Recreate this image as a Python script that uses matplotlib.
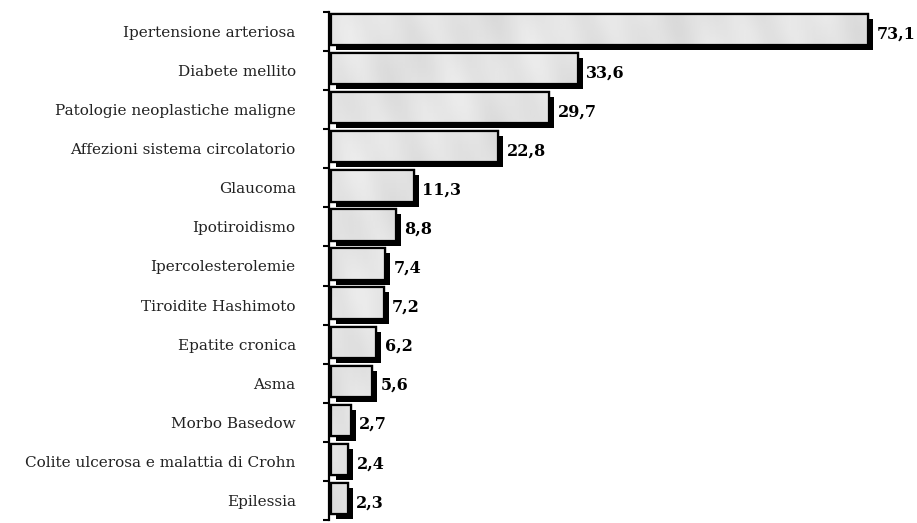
import numpy as np
import matplotlib
matplotlib.use('Agg')
import matplotlib.pyplot as plt
from matplotlib.transforms import ScaledTranslation

categories = ['Ipertensione arteriosa', 'Diabete mellito', 'Patologie neoplastiche maligne',
              'Affezioni sistema circolatorio', 'Glaucoma', 'Ipotiroidismo',
              'Ipercolesterolemie', 'Tiroidite Hashimoto', 'Epatite cronica', 'Asma',
              'Morbo Basedow', 'Colite ulcerosa e malattia di Crohn', 'Epilessia']
values = [73.1, 33.6, 29.7, 22.8, 11.3, 8.8, 7.4, 7.2, 6.2, 5.6, 2.7, 2.4, 2.3]
value_labels = ['73,1', '33,6', '29,7', '22,8', '11,3', '8,8', '7,4', '7,2', '6,2', '5,6',
                '2,7', '2,4', '2,3']

plt.rcParams['font.family'] = ['DejaVu Serif']

fig = plt.figure(figsize=(9.17, 5.23), dpi=100)
ax = fig.add_axes([329 / 917, 3 / 523, 588 / 917, 508 / 523])

n = len(categories)
pos = np.arange(n) + 0.45
h = 0.8

shadow = ax.transData + ScaledTranslation(5 / 100, -5 / 100, fig.dpi_scale_trans)
ax.barh(pos, values, height=h, left=0.25, color='black', transform=shadow, zorder=1)
bars = ax.barh(pos, values, height=h, left=0.25, color='#e4e4e4', edgecolor='black',
               linewidth=1.6, zorder=2)

# light marble-ish fill
xx = np.linspace(0, 1, 300)
yy = np.linspace(0, 1, 40)
X, Y = np.meshgrid(xx, yy)
tex = (0.89 + 0.025 * np.sin(X * 29 + Y * 11) * np.cos(Y * 13 - X * 11)
       + 0.012 * np.sin(X * 83 - Y * 27))
for b in bars:
    im = ax.imshow(tex, cmap='gray', vmin=0, vmax=1, aspect='auto',
                   extent=[0, 80, n, 0], zorder=2.5, interpolation='bilinear')
    im.set_clip_path(b)
    b2 = plt.Rectangle(b.get_xy(), b.get_width(), b.get_height(), fill=False,
                       edgecolor='black', linewidth=1.6, zorder=3)
    ax.add_patch(b2)

for p, v, lab in zip(pos, values, value_labels):
    ax.annotate(lab, (v + 0.25, p), xytext=(6, -3), textcoords='offset points',
                ha='left', va='center', fontsize=11.5, fontweight='bold')

ax.set_xlim(0, 80)
ax.set_ylim(n, 0)
ax.set_yticks(np.arange(n) + 0.5)
ax.set_yticklabels(categories, fontsize=11, color='#222222')
ax.tick_params(axis='y', which='major', length=0, pad=24)
ax.set_yticks(np.arange(n + 1), minor=True)
ax.tick_params(axis='y', which='minor', length=4, width=1.5, direction='out')
ax.set_xticks([])
for s in ['top', 'right', 'bottom']:
    ax.spines[s].set_visible(False)
ax.spines['left'].set_linewidth(1.6)

fig.savefig('out.png', dpi=100)
